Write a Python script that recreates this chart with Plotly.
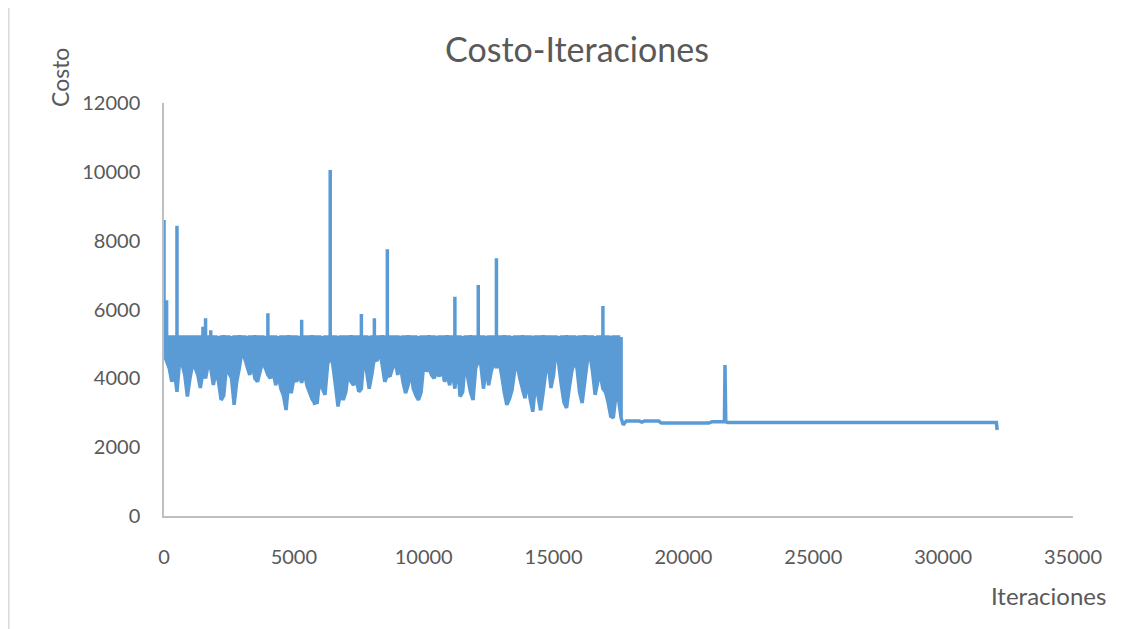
import plotly.graph_objects as go

# ---- data ----
title_text = "Costo-Iteraciones"
x_title = "Iteraciones"
y_title = "Costo"

x_ticks = [0, 5000, 10000, 15000, 20000, 25000, 30000, 35000]
y_ticks = [0, 2000, 4000, 6000, 8000, 10000, 12000]

# noisy phase: iterations sampled every 100, upper and lower reach of the line
band_iter = list(range(0, 17700, 100))
band_hi = [
    8600, 6270, 5250, 5250, 5250, 8430, 5250, 5250, 5250, 5250,
    5250, 5250, 5250, 5250, 5250, 5500, 5745, 5250, 5400, 5250,
    5250, 5230, 5250, 5260, 5250, 5250, 5230, 5250, 5250, 5260,
    5250, 5250, 5240, 5250, 5250, 5260, 5250, 5250, 5250, 5240,
    5890, 5250, 5250, 5250, 5230, 5250, 5250, 5250, 5260, 5250,
    5250, 5250, 5240, 5700, 5250, 5250, 5250, 5260, 5250, 5250,
    5250, 5230, 5250, 5250, 10050, 5250, 5250, 5240, 5250, 5250,
    5250, 5250, 5260, 5250, 5250, 5250, 5870, 5250, 5250, 5240,
    5250, 5745, 5250, 5250, 5260, 5250, 7750, 5250, 5250, 5250,
    5250, 5240, 5250, 5250, 5260, 5250, 5250, 5250, 5230, 5250,
    5250, 5250, 5260, 5250, 5250, 5240, 5250, 5250, 5250, 5260,
    5250, 5250, 6370, 5250, 5250, 5230, 5250, 5250, 5260, 5250,
    5250, 6710, 5250, 5250, 5240, 5250, 5250, 5250, 7490, 5250,
    5250, 5260, 5250, 5250, 5230, 5250, 5250, 5250, 5260, 5250,
    5250, 5250, 5240, 5250, 5250, 5250, 5260, 5250, 5250, 5250,
    5250, 5250, 5230, 5250, 5250, 5260, 5250, 5250, 5250, 5240,
    5250, 5250, 5260, 5250, 5250, 5250, 5230, 5250, 5250, 6100,
    5250, 5250, 5240, 5250, 5250, 5250, 5200,
]
band_lo = [
    4700, 4500, 4300, 3900, 4200, 3610, 4500, 4400, 4100, 3470,
    4000, 4400, 4300, 4100, 3720, 4200, 4000, 4400, 4300, 3810,
    4200, 3900, 3370, 3500, 4300, 4150, 4000, 3230, 3900, 4300,
    4780, 4600, 4340, 4100, 4400, 4000, 3900, 4200, 4500, 4300,
    4100, 4000, 4200, 3800, 4100, 3700, 3500, 3080, 3900, 3570,
    4000, 3900, 4100, 3870, 4200, 3800, 3600, 3400, 3280, 3300,
    4000, 3700, 3520, 4400, 4680, 4400, 3800, 3180, 3600, 3370,
    3600, 4200, 3900, 3800, 4000, 3610, 3700, 4700, 4200, 3700,
    4100, 4600, 4500, 4820, 4400, 3900, 4100, 4050, 4300, 4500,
    4100, 4400, 3900, 3570, 3800, 4200, 3700, 3500, 3370, 3600,
    4400, 4200, 4300, 4100, 4000, 4200, 4050, 4300, 3900, 4100,
    3800, 4200, 3700, 4400, 3470, 3600, 4500, 4000, 3600, 3370,
    4300, 4500, 4400, 3700, 4300, 3800, 4200, 4500, 4300, 4500,
    4100, 3600, 3230, 3400, 3660, 4200, 4400, 4000, 3700, 3420,
    3900, 3400, 3030, 3800, 3500, 3070, 3600, 4200, 4400, 3720,
    4100, 4920, 4400, 3800, 3300, 3140, 3700, 4200, 4500, 4300,
    3600, 3280, 3900, 4500, 4700, 4200, 3520, 3900, 4100, 3700,
    3600, 3300, 2900, 2850, 3500, 3400, 2850,
]

# settled phase
flat_iter = [17680, 17720, 17800, 18300, 18400, 18500, 19050, 19150, 20980,
             21100, 21580, 21600, 21630, 21700, 32050, 32080]
flat_cost = [2650, 2700, 2760, 2760, 2730, 2760, 2760, 2700, 2700,
             2740, 2740, 4390, 2740, 2720, 2720, 2500]

# ---- build the line: each sampled iteration drawn as a vertical stroke ----
xs, ys = [], []
for it, h, l in zip(band_iter, band_hi, band_lo):
    xs += [it, it, it]
    ys += [l, h, l]
xs += flat_iter
ys += flat_cost

TXT = "#595959"
FONT = "Lato"

# page has an 8px body margin, so figure coords = target page coords - 8
OFF = 8
W, H = 1139 - OFF, 629 - OFF
PL, PR, PT, PB = 164 - OFF, 1073 - OFF, 103 - OFF, 516 - OFF  # plot box in figure px
PW, PH = PR - PL, PB - PT


def px(xpage):
    return (xpage - OFF - PL) / PW


def py(ypage):
    return (PB - (ypage - OFF)) / PH


fig = go.Figure()
fig.add_trace(go.Scatter(x=xs, y=ys, mode="lines",
                         line=dict(color="#5B9BD5", width=3.5),
                         showlegend=False, hoverinfo="skip"))

fig.update_layout(
    width=W, height=H, autosize=False,
    paper_bgcolor="white", plot_bgcolor="white",
    margin=dict(l=PL, r=W - PR, t=PT, b=H - PB),
    title=dict(text=title_text, x=(577 - OFF) / W, xanchor="center",
               y=1 - (50 - OFF) / H, yanchor="middle",
               font=dict(family=FONT, size=34, color=TXT)),
    xaxis=dict(range=[0, 35000], tickvals=x_ticks, ticktext=[str(v) for v in x_ticks],
               showgrid=False, zeroline=False, showline=True, linecolor="#bfbfbf",
               linewidth=1.5, ticks="", ticklabelstandoff=22,
               tickfont=dict(family=FONT, size=20, color=TXT)),
    yaxis=dict(range=[0, 12000], tickvals=y_ticks, ticktext=[str(v) for v in y_ticks],
               showgrid=False, zeroline=False, showline=True, linecolor="#bfbfbf",
               linewidth=1.5, ticks="", ticklabelstandoff=18,
               tickfont=dict(family=FONT, size=20, color=TXT)),
    annotations=[
        dict(text=y_title, textangle=-90, xref="paper", yref="paper",
             x=px(60), y=py(78), xanchor="center", yanchor="middle",
             showarrow=False, font=dict(family=FONT, size=23, color=TXT)),
        dict(text=x_title, xref="paper", yref="paper",
             x=px(1048), y=py(595), xanchor="center", yanchor="middle",
             showarrow=False, font=dict(family=FONT, size=24, color=TXT)),
    ],
    shapes=[dict(type="line", xref="paper", yref="paper",
                 x0=px(8.8), x1=px(8.8), y0=py(629), y1=py(8),
                 line=dict(color="#d9d9d9", width=1.5))],
)

fig.write_html("out.html")
